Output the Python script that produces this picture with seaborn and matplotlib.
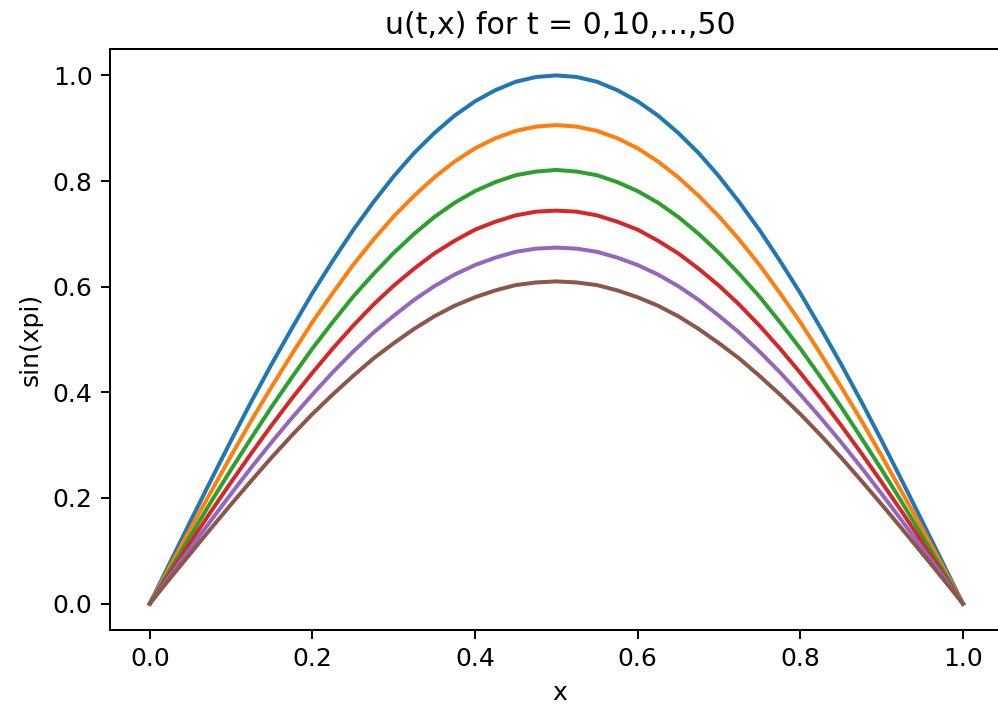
import pandas as pd
import matplotlib.pyplot as plt
import seaborn as sns

# x positions and u(t,x), one list per t
x_vals = [0.0, 0.025, 0.05, 0.075, 0.1, 0.125, 0.15, 0.175, 0.2, 0.225,
          0.25, 0.275, 0.3, 0.325, 0.35, 0.375, 0.4, 0.425, 0.45, 0.475,
          0.5, 0.525, 0.55, 0.575, 0.6, 0.625, 0.65, 0.675, 0.7, 0.725,
          0.75, 0.775, 0.8, 0.825, 0.85, 0.875, 0.9, 0.925, 0.95, 0.975, 1.0]
t_labels = ['0', '10', '20', '30', '40', '50']

u_t0 = [0.0, 0.078, 0.156, 0.233, 0.309, 0.383, 0.454, 0.522, 0.588, 0.649,
        0.707, 0.760, 0.809, 0.853, 0.891, 0.924, 0.951, 0.972, 0.988, 0.997,
        1.000,
        0.997, 0.988, 0.972, 0.951, 0.924, 0.891, 0.853, 0.809, 0.760, 0.707,
        0.649, 0.588, 0.522, 0.454, 0.383, 0.309, 0.233, 0.156, 0.078, 0.0]
u_t10 = [0.0, 0.071, 0.142, 0.211, 0.280, 0.347, 0.411, 0.473, 0.533, 0.588,
         0.641, 0.689, 0.733, 0.772, 0.807, 0.837, 0.862, 0.881, 0.895, 0.903,
         0.906,
         0.903, 0.895, 0.881, 0.862, 0.837, 0.807, 0.772, 0.733, 0.689, 0.641,
         0.588, 0.533, 0.473, 0.411, 0.347, 0.280, 0.211, 0.142, 0.071, 0.0]
u_t20 = [0.0, 0.064, 0.128, 0.192, 0.254, 0.314, 0.373, 0.429, 0.483, 0.533,
         0.581, 0.624, 0.664, 0.700, 0.732, 0.759, 0.781, 0.798, 0.811, 0.818,
         0.821,
         0.818, 0.811, 0.798, 0.781, 0.759, 0.732, 0.700, 0.664, 0.624, 0.581,
         0.533, 0.483, 0.429, 0.373, 0.314, 0.254, 0.192, 0.128, 0.064, 0.0]
u_t30 = [0.0, 0.058, 0.116, 0.174, 0.230, 0.285, 0.338, 0.389, 0.437, 0.483,
         0.526, 0.566, 0.602, 0.634, 0.663, 0.687, 0.708, 0.723, 0.735, 0.742,
         0.744,
         0.742, 0.735, 0.723, 0.708, 0.687, 0.663, 0.634, 0.602, 0.566, 0.526,
         0.483, 0.437, 0.389, 0.338, 0.285, 0.230, 0.174, 0.116, 0.058, 0.0]
u_t40 = [0.0, 0.053, 0.105, 0.157, 0.208, 0.258, 0.306, 0.352, 0.396, 0.438,
         0.477, 0.513, 0.545, 0.575, 0.601, 0.623, 0.641, 0.655, 0.666, 0.672,
         0.674,
         0.672, 0.666, 0.655, 0.641, 0.623, 0.601, 0.575, 0.545, 0.513, 0.477,
         0.438, 0.396, 0.352, 0.306, 0.258, 0.208, 0.157, 0.105, 0.053, 0.0]
u_t50 = [0.0, 0.048, 0.095, 0.142, 0.188, 0.233, 0.277, 0.319, 0.359, 0.396,
         0.431, 0.464, 0.493, 0.520, 0.544, 0.564, 0.580, 0.593, 0.603, 0.608,
         0.610,
         0.608, 0.603, 0.593, 0.580, 0.564, 0.544, 0.520, 0.493, 0.464, 0.431,
         0.396, 0.359, 0.319, 0.277, 0.233, 0.188, 0.142, 0.095, 0.048, 0.0]

curves = [u_t0, u_t10, u_t20, u_t30, u_t40, u_t50]
frames = []
for t, u in zip(t_labels, curves):
    frames.append(pd.DataFrame({'x': x_vals, 'u': u, 't': t}))
data = pd.concat(frames, ignore_index=True)

W, H = 998, 711
fig = plt.figure(figsize=(W/180, H/180), dpi=180)
# axes run past the right edge, as in the cropped original (no right spine shown)
ax = fig.add_axes([110/W, 1-630/H, (1010-110)/W, (630-49)/H])
sns.lineplot(data=data, x='x', y='u', hue='t', palette='tab10', linewidth=1.6,
             legend=False, ax=ax)
ax.set_xlim(-0.049, 1.058)
ax.set_xlabel('x')
ax.set_ylabel('sin(xpi)')
ax.set_title('u(t,x) for t = 0,10,...,50')
ax.set_xticks([0.0, 0.2, 0.4, 0.6, 0.8, 1.0])
ax.set_yticks([0.0, 0.2, 0.4, 0.6, 0.8, 1.0])

plt.savefig('out.png', dpi=180)
plt.close()
